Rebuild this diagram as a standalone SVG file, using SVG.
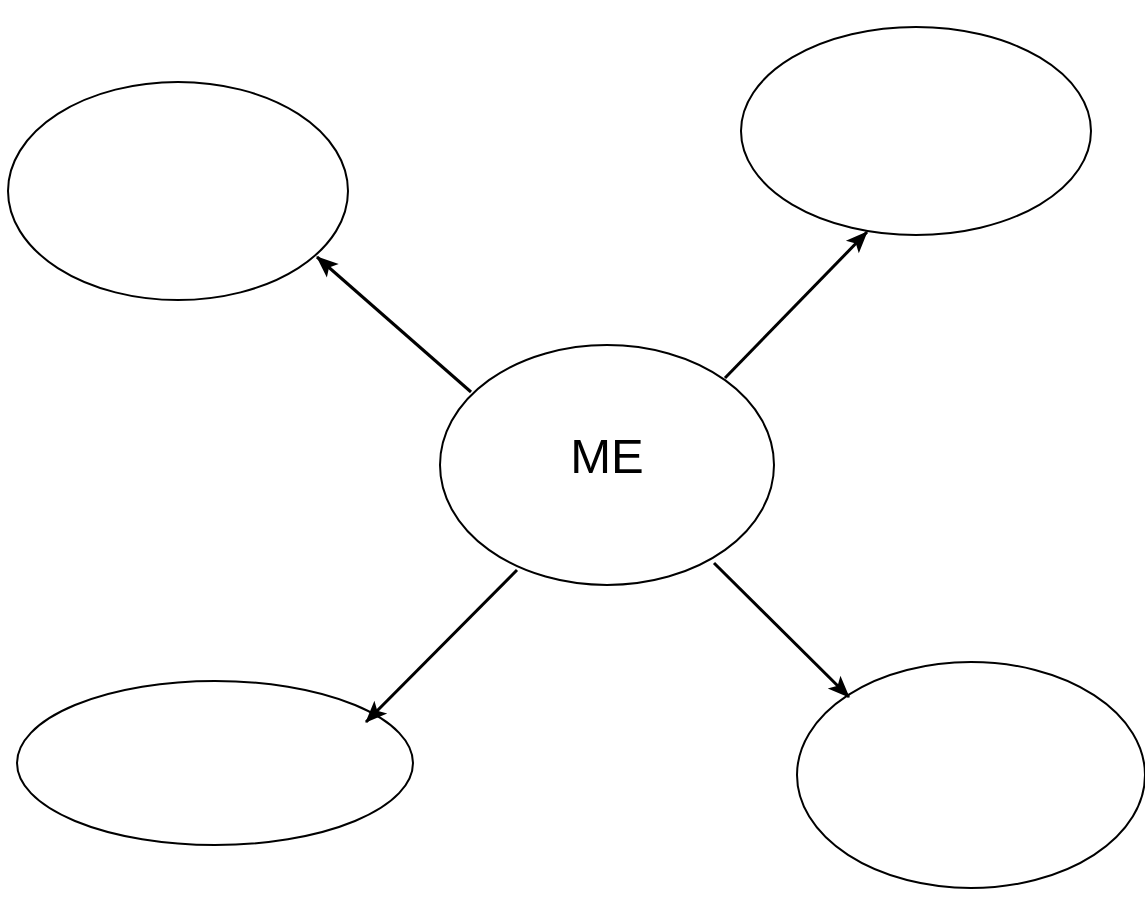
<svg xmlns="http://www.w3.org/2000/svg" width="1145" height="921" viewBox="0 0 1145 921">
<style>
.node{fill:#fff;stroke:#000;stroke-width:2}
.conn{stroke:#000;stroke-width:3;fill:none;marker-end:url(#ah)}
.lbl{font-family:"Liberation Sans",Arial,sans-serif;font-size:49px;fill:#000;text-anchor:middle}
</style>
<defs>
<marker id="ah" viewBox="0 0 22 18" refX="21" refY="9" markerWidth="22" markerHeight="18" markerUnits="userSpaceOnUse" orient="auto" overflow="visible">
<path d="M0,0 L22,9 L0,18 L5,9 Z" fill="#000"/>
</marker>
</defs>
<rect width="1145" height="921" fill="#fff"/>
<g id="n-tl"><ellipse class="node" cx="178" cy="191" rx="170" ry="109"/></g>
<g id="n-tr"><ellipse class="node" cx="916" cy="131" rx="175" ry="104"/></g>
<g id="n-bl"><ellipse class="node" cx="215" cy="763" rx="198" ry="82"/></g>
<g id="n-br"><ellipse class="node" cx="971" cy="775" rx="174" ry="113"/></g>
<g id="n-me"><ellipse class="node" cx="607" cy="465" rx="167" ry="120"/><text class="lbl" x="607" y="473">ME</text></g>
<g id="connectors">
<line class="conn" x1="471" y1="392" x2="317" y2="257"/>
<line class="conn" x1="725" y1="378" x2="867" y2="232"/>
<line class="conn" x1="517" y1="570" x2="366" y2="722"/>
<line class="conn" x1="714" y1="563" x2="849" y2="697"/>
</g>
</svg>
